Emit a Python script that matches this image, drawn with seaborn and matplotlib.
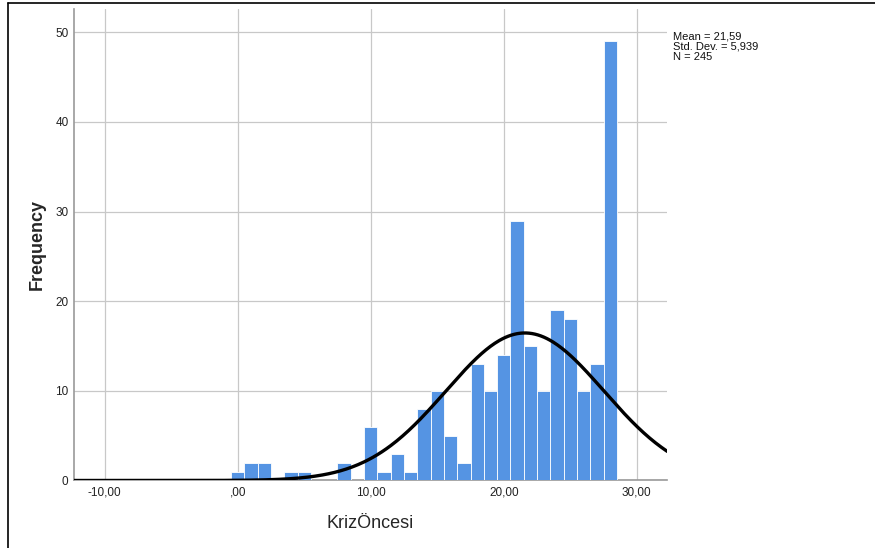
import numpy as np
import pandas as pd
import seaborn as sns
import matplotlib.pyplot as plt
from matplotlib.lines import Line2D

# KrizÖncesi scores and how often each one occurs
values = [0, 1, 2, 4, 5, 8, 10, 11, 12, 13, 14, 15, 16, 17, 18, 19, 20,
          21, 22, 23, 24, 25, 26, 27, 28]
counts = [1, 2, 2, 1, 1, 2, 6, 1, 3, 1, 8, 10, 5, 2, 13, 10, 14,
          29, 15, 10, 19, 18, 10, 13, 49]
x_ticks = [-10, 0, 10, 20, 30]
x_labels = ['-10,00', ',00', '10,00', '20,00', '30,00']
y_ticks = [0, 10, 20, 30, 40, 50]

# summary printed by SPSS
mean = 21.59
std = 5.939
n = 245

df = pd.DataFrame({'KrizOncesi': values, 'count': counts})

sns.set_style('white')
plt.rcParams['font.family'] = ['Liberation Sans', 'DejaVu Sans']

fig = plt.figure(figsize=(8.75, 5.48), dpi=100)
ax = fig.add_axes([0.0846, 0.1232, 0.6774, 0.8604])

sns.histplot(data=df, x='KrizOncesi', weights='count', discrete=True,
             color='#5594E3', alpha=1, edgecolor='white', linewidth=0.6,
             ax=ax, zorder=3)

# fitted normal curve scaled to counts (bin width 1)
xs = np.linspace(-12.3, 32.3, 400)
ys = n * 1.0 / (std * np.sqrt(2 * np.pi)) * np.exp(-0.5 * ((xs - mean) / std) ** 2)
sns.lineplot(x=xs, y=ys, color='black', linewidth=2.4, ax=ax, zorder=4)

ax.set_xlim(-12.3, 32.25)
ax.set_ylim(0, 52.6)
ax.set_xticks(x_ticks)
ax.set_xticklabels(x_labels)
ax.set_yticks(y_ticks)
ax.tick_params(axis='both', length=0, labelsize=8.5, colors='#222222', pad=4)

ax.grid(True, color='#c8c8c8', linewidth=0.9, zorder=0)
ax.set_axisbelow(True)
for side in ['top', 'right']:
    ax.spines[side].set_visible(False)
for side in ['left', 'bottom']:
    ax.spines[side].set_color('#999999')
    ax.spines[side].set_linewidth(1.2)

ax.set_xlabel('KrizÖncesi', fontsize=13, labelpad=12)
ax.set_ylabel('Frequency', fontsize=13, fontweight='bold', labelpad=7)

fig.text(0.769, 0.942, 'Mean = 21,59\nStd. Dev. = 5,939\nN = 245',
         fontsize=8, va='top', ha='left', linespacing=1.0, color='#111111')

# outer frame (left and top only visible)
fig.add_artist(Line2D([0.0093, 0.0093], [0, 0.995], transform=fig.transFigure,
                      color='black', linewidth=1.2))
fig.add_artist(Line2D([0.0093, 1], [0.995, 0.995], transform=fig.transFigure,
                      color='black', linewidth=1.2))

fig.savefig('out.png', dpi=100)
